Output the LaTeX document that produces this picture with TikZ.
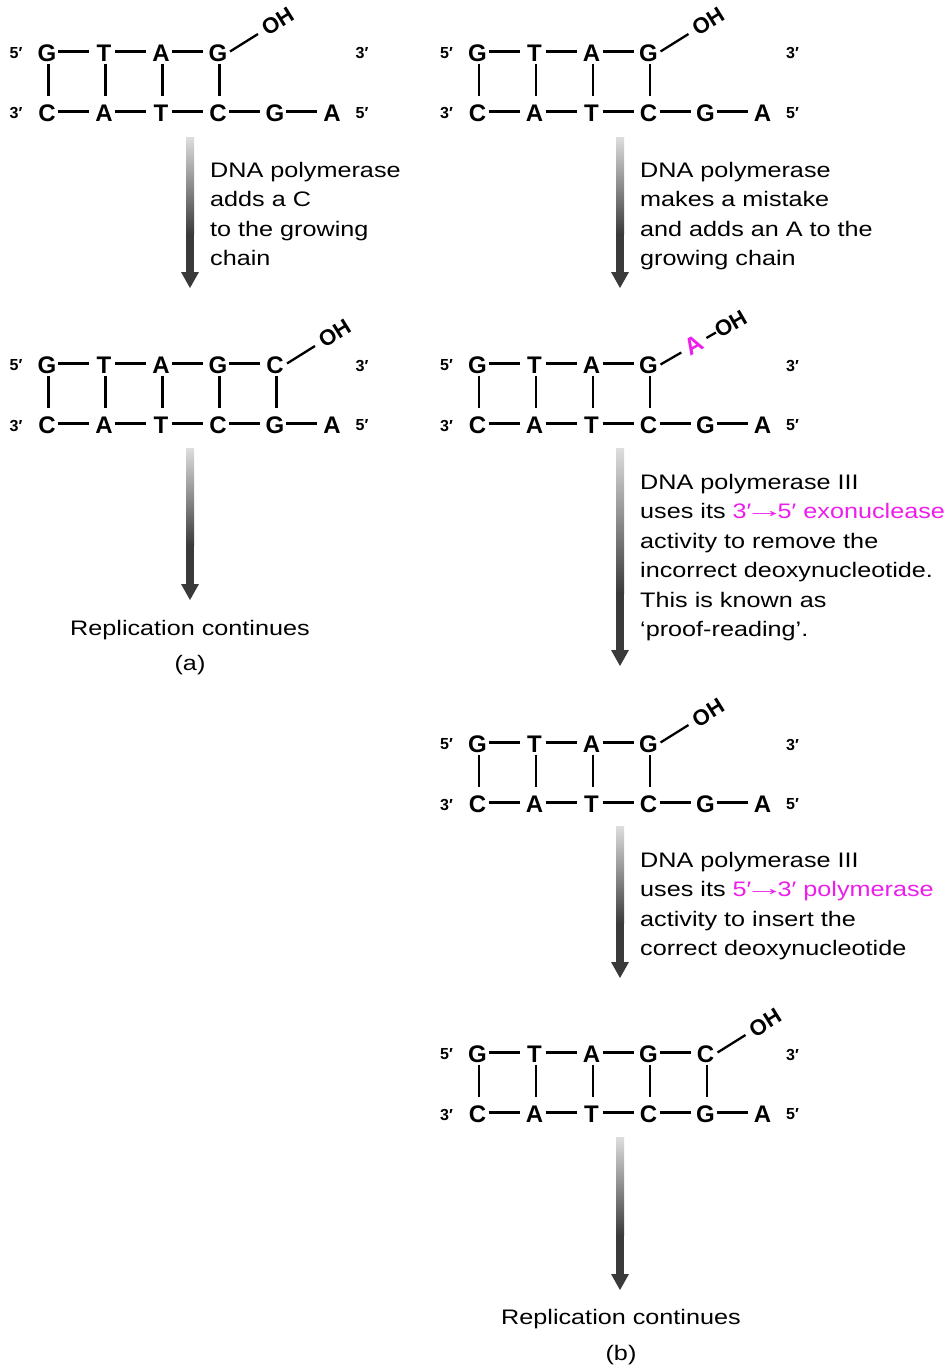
\documentclass[tikz,border=0pt]{standalone}
\usepackage{fontspec}
\usepackage{graphicx}
\setmainfont{Liberation Sans}
\newfontfamily\txtfont[FakeStretch=1.2]{Liberation Sans}
\usetikzlibrary{calc}
\definecolor{mag}{RGB}{235,30,235}
\definecolor{arrdark}{RGB}{58,58,58}
\definecolor{arrlight}{RGB}{222,222,222}
\newcommand\longarr{\kern-7pt\raisebox{1pt}{\scalebox{1.6}[1]{→}}\kern-7pt}
\tikzset{
  nuc/.style={inner sep=0pt, font=\bfseries\fontsize{24}{24}\selectfont},
  endlab/.style={inner sep=0pt, font=\bfseries\fontsize{16}{16}\selectfont},
  ohlab/.style={inner sep=0pt, font=\bfseries\fontsize{22}{22}\selectfont, rotate=32},
  bond/.style={line width=2.3pt},
  txt/.style={inner sep=0pt, anchor=base west, font=\txtfont\fontsize{21}{29.5}\selectfont},
  ctxt/.style={inner sep=0pt, anchor=base, font=\txtfont\fontsize{21}{29.5}\selectfont},
}
% #1 name, #2 x of first letter, #3 y of top row, #4 number of paired top letters
\newcommand\dnablock[4]{%
  \foreach \L [count=\i] in {G,T,A,G,C} {%
    \ifnum\i>#4\relax\else
      \node[nuc] (#1t\i) at ({#2+57*(\i-1)},#3) {\L};
    \fi}
  \foreach \L [count=\i] in {C,A,T,C,G,A} {%
    \node[nuc] (#1b\i) at ({#2+57*(\i-1)},{#3+60}) {\L};}
  \foreach \i [evaluate=\i as \j using int(\i+1)] in {1,...,5} {%
    \draw[bond] ([xshift=11pt,yshift=2pt]#1b\i.center) -- ([xshift=-15pt,yshift=2pt]#1b\j.center);}
  \pgfmathtruncatemacro\ntop{#4-1}
  \foreach \i [evaluate=\i as \j using int(\i+1)] in {1,...,\ntop} {%
    \draw[bond] ([xshift=11pt,yshift=2pt]#1t\i.center) -- ([xshift=-15pt,yshift=2pt]#1t\j.center);}
  \foreach \i in {1,...,#4} {%
    \draw[bond] ([xshift=1.5pt,yshift=-10pt]#1t\i.center) -- ([xshift=1.5pt,yshift=18pt]#1b\i.center);}
  \node[endlab] (#1l1) at ({#2-31},#3) {5′};
  \node[endlab] (#1l2) at ({#2+315},#3) {3′};
  \node[endlab] (#1l3) at ({#2-31},{#3+60}) {3′};
  \node[endlab] (#1l4) at ({#2+315},{#3+60}) {5′};
}
% OH end on top letter #2 of block #1
\newcommand\ohend[2]{%
  \coordinate (#1o) at ($(#1t#2.center)+(12,-2)$);
  \coordinate (#1oe) at ($(#1o)+(-32:33)$);
  \node[ohlab] (#1oh) at ($(#1o)+(-32:56)$) {OH};
  \draw[bond] (#1o) -- (#1oe);
}
% gradient arrow: #1 name, #2 x, #3 top y, #4 tip y
\newcommand\garrow[4]{%
  \coordinate (#1s) at (#2,#3);
  \coordinate (#1e) at (#2,#4);
  \coordinate (#1m) at (#2,{#3+0.72*(#4-#3-16)});
  \coordinate (#1h) at (#2,{#4-16});
  \shade[top color=arrlight,bottom color=arrdark] ($(#1s)+(-4,0)$) rectangle ($(#1m)+(4,0)$);
  \fill[arrdark] ($(#1m)+(-4,-0.5)$) rectangle ($(#1h)+(4,0)$);
  \fill[arrdark] ($(#1h)+(-9,0)$) -- ($(#1h)+(9,0)$) -- (#1e) -- cycle;
}
\begin{document}
\begin{tikzpicture}[x=1pt,y=-1pt]
\useasboundingbox (0,0) rectangle (951,1368);

% ---------- (a) ----------
\dnablock{a}{47}{53.5}{4}
\ohend{a}{4}
\garrow{aa}{190}{137}{288}
\node[txt] (ta1) at (210,177) {DNA polymerase};
\node[txt] (ta2) at (210,206.5) {adds a C};
\node[txt] (ta3) at (210,236) {to the growing};
\node[txt] (ta4) at (210,265.5) {chain};

\dnablock{b}{47}{365.5}{5}
\ohend{b}{5}
\garrow{ab}{190}{448}{600}
\node[ctxt] (rc1) at (190,635) {Replication continues};
\node[ctxt] (lba) at (190,670) {(a)};

% ---------- (b) ----------
\dnablock{c}{477.5}{53.5}{4}
\ohend{c}{4}
\garrow{ac}{620}{137}{288}
\node[txt] (tc1) at (640,177) {DNA polymerase};
\node[txt] (tc2) at (640,206.5) {makes a mistake};
\node[txt] (tc3) at (640,236) {and adds an A to the};
\node[txt] (tc4) at (640,265.5) {growing chain};

\dnablock{d}{477.5}{365.5}{4}
\coordinate (dor) at ($(dt4.center)+(12,-1)$);
\coordinate (dol) at ($(dor)+(-30:24)$);
\node[nuc, text=mag, rotate=30] (dA) at ($(dor)+(-30:38)$) {A};
\coordinate (dq1) at ($(dor)+(-30:53)$);
\coordinate (dq2) at ($(dor)+(-30:64)$);
\node[ohlab, rotate=-2] (doh) at ($(dor)+(-30:81)$) {OH};
\draw[bond] (dor) -- (dol);
\draw[bond] (dq1) -- (dq2);
\garrow{ad}{620}{448}{666}
\node[txt] (td1) at (640,489) {DNA polymerase III};
\node[txt] (td2) at (640,518.5) {uses its {\color{mag}3′\longarr5′ exonuclease}};
\node[txt] (td3) at (640,548) {activity to remove the};
\node[txt] (td4) at (640,577.5) {incorrect deoxynucleotide.};
\node[txt] (td5) at (640,607) {This is known as};
\node[txt] (td6) at (640,636.5) {‘proof-reading’.};

\dnablock{e}{477.5}{744.5}{4}
\ohend{e}{4}
\garrow{ae}{620}{826}{978}
\node[txt] (te1) at (640,867) {DNA polymerase III};
\node[txt] (te2) at (640,896.5) {uses its {\color{mag}5′\longarr3′ polymerase}};
\node[txt] (te3) at (640,926) {activity to insert the};
\node[txt] (te4) at (640,955.5) {correct deoxynucleotide};

\dnablock{f}{477.5}{1054.5}{5}
\ohend{f}{5}
\garrow{af}{620}{1137}{1290}
\node[ctxt] (rc2) at (621,1324) {Replication continues};
\node[ctxt] (lbb) at (621,1360) {(b)};
\end{tikzpicture}
\end{document}
